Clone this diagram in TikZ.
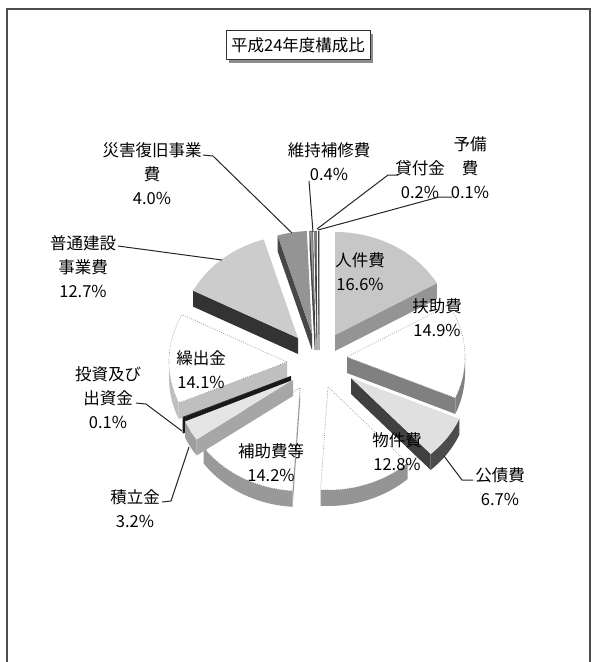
\documentclass[tikz,border=0pt]{standalone}
\usepackage{fontspec}
\setmainfont{Noto Sans CJK JP}
\usetikzlibrary{shadows}
% slice helpers: apex x, apex y, angles (clockwise from 12 o'clock), style
\newcommand\pietop[5]{\path[#5] (#1,#2) -- plot[variable=\t,domain=#3:#4,samples=40] ({#1+118*sin(\t)},{#2-103*cos(\t)}) -- cycle;}
\newcommand\pieside[5]{\path[#5] plot[variable=\t,domain=#3:#4,samples=30] ({#1+118*sin(\t)},{#2-103*cos(\t)}) -- plot[variable=\t,domain=#4:#3,samples=30] ({#1+118*sin(\t)},{#2+16-103*cos(\t)}) -- cycle;}
\newcommand\pierad[4]{\path[#4] (#1,#2) -- ({#1+118*sin(#3)},{#2-103*cos(#3)}) -- ({#1+118*sin(#3)},{#2+16-103*cos(#3)}) -- (#1,#2+16) -- cycle;}
\begin{document}
\begin{tikzpicture}[x=1pt,y=-1pt,
  lbl/.style={font=\fontsize{16.5}{24}\selectfont, align=center, inner sep=0pt, text=black},
  leader/.style={draw=black!85, line width=1pt},
  frame/.style={draw=black!70, line width=1.2pt},
  dotface/.style={fill=white, draw=black!45, line width=0.6pt, dash pattern=on 0.8pt off 1.4pt},
  thin/.style={draw=black!75, line width=0.5pt}]
\useasboundingbox (0,0) rectangle (592,662);
\fill[white] (0,0) rectangle (592,662);
\draw[frame] (7,662) -- (7,9) -- (590,9) -- (590,662);

\node[draw=black!80, fill=white, line width=0.8pt, minimum width=144pt, minimum height=29pt,
  font=\fontsize{16.5}{18}\selectfont, text=black,
  drop shadow={shadow xshift=3pt, shadow yshift=-3pt, fill=black!45, opacity=1}] (title) at (298,45) {平成24年度構成比};

% 人件費 16.6%
\pierad{335}{335}{59.76}{fill=black!42}
\pietop{335}{335}{0}{59.76}{fill=black!22}
% 予備費 0.1%
\pierad{319}{334}{359.64}{fill=black!60, thin}
\pietop{319}{334}{359.64}{360}{fill=black!45, thin}
% 貸付金 0.2%
\pierad{317}{334}{358.92}{fill=black!60, thin}
\pietop{317}{334}{358.92}{359.64}{fill=black!45, thin}
% 維持補修費 0.4%
\pierad{315}{334}{357.48}{fill=black!65, thin}
\pietop{315}{334}{357.48}{358.92}{fill=black!40, thin}
% 災害復旧事業費 4.0%
\pierad{312}{334}{343.08}{fill=black!72}
\pietop{312}{334}{343.08}{357.48}{fill=black!42}
% 普通建設事業費 12.7%
\pierad{298}{338}{297.36}{fill=black!80}
\pietop{298}{338}{297.36}{343.08}{fill=black!20}
% 扶助費 14.9%
\pierad{347}{357}{113.4}{fill=black!50}
\pieside{347}{357}{90}{113.4}{fill=black!50}
\pietop{347}{357}{59.76}{113.4}{dotface}
% 繰出金 14.1%
\pierad{287}{362}{246.6}{fill=black!25}
\pieside{287}{362}{246.6}{270}{fill=black!25}
\pietop{287}{362}{246.6}{297.36}{dotface}
% 補助費等 14.2%
\pierad{300}{388}{183.6}{fill=black!40}
\pieside{300}{388}{183.6}{234.72}{fill=black!40}
\pietop{300}{388}{183.6}{234.72}{dotface}
% 物件費 12.8%
\pieside{328}{387}{137.52}{183.6}{fill=black!42}
\pietop{328}{387}{137.52}{183.6}{dotface}
% 投資及び出資金 0.1%
\pierad{291}{376}{246.24}{fill=black!90}
\pieside{291}{376}{246.24}{246.6}{fill=black!90}
\pietop{291}{376}{246.24}{246.6}{fill=black!90}
% 積立金 3.2%
\pierad{293}{380}{234.72}{fill=black!35}
\pieside{293}{380}{234.72}{246.24}{fill=black!38}
\pietop{293}{380}{234.72}{246.24}{fill=black!10}
% 公債費 6.7%
\pierad{351}{378}{137.52}{fill=black!75}
\pieside{351}{378}{113.4}{137.52}{fill=black!70}
\pietop{351}{378}{113.4}{137.52}{fill=black!12}

% labels inside slices
\node[lbl] (l-jinken) at (360,272) {人件費\\16.6\%};
\node[lbl] (l-fujo) at (437,318) {扶助費\\14.9\%};
\node[lbl] (l-bukken) at (397,452) {物件費\\12.8\%};
\node[lbl] (l-hojo) at (271,463) {補助費等\\14.2\%};
\node[lbl] (l-kuri) at (201,370) {繰出金\\14.1\%};

% labels outside with leaders
\node[lbl] (l-saigai) at (152,174) {災害復旧事業\\費\\4.0\%};
\node[lbl] (l-iji) at (329,162) {維持補修費\\0.4\%};
\node[lbl] (l-kashi) at (420,180) {貸付金\\0.2\%};
\node[lbl] (l-yobi) at (470,168) {予備\\費\\0.1\%};
\node[lbl] (l-futsu) at (83,267) {普通建設\\事業費\\12.7\%};
\node[lbl] (l-toshi) at (108,398) {投資及び\\出資金\\0.1\%};
\node[lbl] (l-tsumi) at (135,509) {積立金\\3.2\%};
\node[lbl] (l-kosai) at (500,487) {公債費\\6.7\%};

\coordinate (saigai-a) at (203,155);
\coordinate (saigai-b) at (213,156);
\coordinate (saigai-c) at (292,233);
\draw[leader] (saigai-a) -- (saigai-b) -- (saigai-c);
\coordinate (iji-a) at (309,181);
\coordinate (iji-c) at (313,232);
\draw[leader] (iji-a) -- (iji-c);
\coordinate (kashi-a) at (398,175);
\coordinate (kashi-b) at (388,175);
\coordinate (kashi-c) at (317,229);
\draw[leader] (kashi-a) -- (kashi-b) -- (kashi-c);
\coordinate (yobi-a) at (452,197);
\coordinate (yobi-b) at (439,197);
\coordinate (yobi-c) at (318,230);
\draw[leader] (yobi-a) -- (yobi-b) -- (yobi-c);
\coordinate (futsu-a) at (118,246);
\coordinate (futsu-c) at (222,260);
\draw[leader] (futsu-a) -- (futsu-c);
\coordinate (toshi-a) at (136,403);
\coordinate (toshi-b) at (146,404);
\coordinate (toshi-c) at (182,431);
\draw[leader] (toshi-a) -- (toshi-b) -- (toshi-c);
\coordinate (tsumi-a) at (162,502);
\coordinate (tsumi-b) at (171,501);
\coordinate (tsumi-c) at (189,447);
\draw[leader] (tsumi-a) -- (tsumi-b) -- (tsumi-c);
\coordinate (kosai-a) at (473,480);
\coordinate (kosai-b) at (462,480);
\coordinate (kosai-c) at (444,456);
\draw[leader] (kosai-a) -- (kosai-b) -- (kosai-c);
\end{tikzpicture}
\end{document}
